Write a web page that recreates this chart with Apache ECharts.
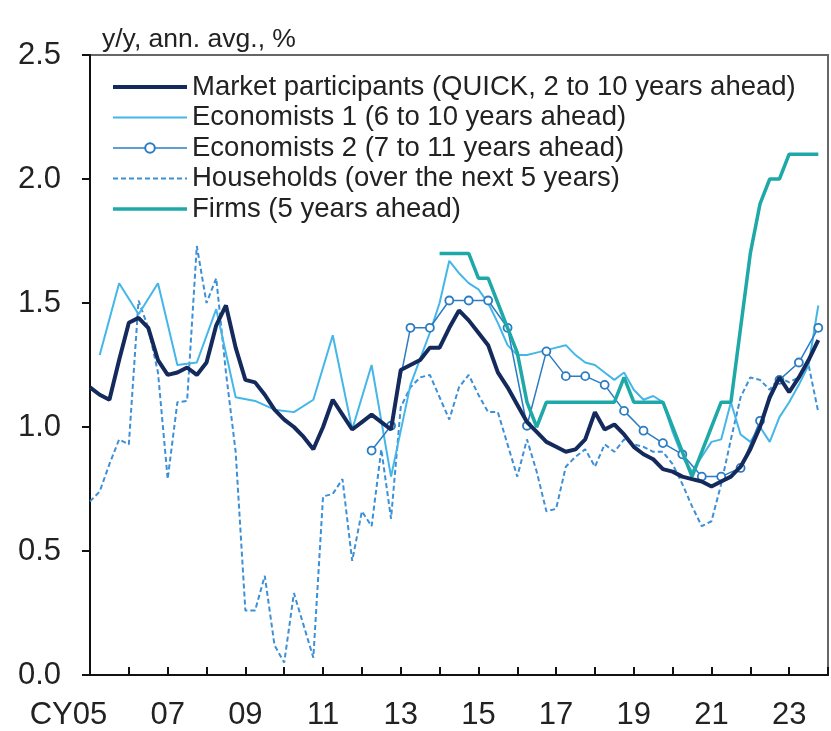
<!DOCTYPE html>
<html><head><meta charset="utf-8">
<script src="https://cdn.jsdelivr.net/npm/echarts@6/dist/echarts.min.js"></script>
<style>html,body{margin:0;padding:0;background:#fff}#c{width:831px;height:731px}</style>
</head><body><div id="c"></div><script>
// ---- data ----
const seriesNames = [
  'Market participants (QUICK, 2 to 10 years ahead)',
  'Economists 1 (6 to 10 years ahead)',
  'Economists 2 (7 to 11 years ahead)',
  'Households (over the next 5 years)',
  'Firms (5 years ahead)'
];
// quarterly from 2005 Q1
const marketStart = 2005.0;
const market = [1.16,1.13,1.11,1.27,1.42,1.44,1.40,1.27,1.21,1.22,1.24,1.21,1.26,1.41,1.49,1.32,1.19,1.18,1.13,1.07,
  1.03,1.00,0.96,0.91,1.00,1.11,1.05,0.99,1.02,1.05,1.02,0.99,1.23,1.25,1.27,1.32,1.32,1.40,1.47,1.43,
  1.38,1.33,1.22,1.16,1.09,1.02,0.98,0.94,0.92,0.90,0.91,0.95,1.06,0.99,1.01,0.97,0.92,0.89,0.87,0.83,
  0.82,0.80,0.79,0.78,0.76,0.78,0.80,0.84,0.91,1.00,1.12,1.20,1.14,1.20,1.27,1.35];
// semiannual from 2005.25, then quarterly from 2014.0
const econ1SemiStart = 2005.25;
const econ1Semi = [1.29,1.58,1.455,1.58,1.25,1.26,1.475,1.12,1.105,1.07,1.06,1.11,1.37,0.99,1.25,0.80,1.17,1.38];
const econ1QStart = 2014.0;
const econ1Q = [1.50,1.67,1.62,1.58,1.555,1.50,1.42,1.33,1.29,1.29,1.30,1.31,1.32,1.33,1.29,1.26,1.25,1.22,1.19,1.22,
  1.15,1.11,1.125,1.10,0.98,0.88,0.82,0.88,0.94,0.95,1.10,0.97,0.94,1.00,0.94,1.04,1.10,1.17,1.25,1.49];
// semiannual from 2012.25
const econ2Start = 2012.25;
const econ2 = [0.905,1.005,1.40,1.40,1.51,1.51,1.51,1.40,1.005,1.305,1.205,1.205,1.17,1.065,0.985,0.935,0.89,0.80,0.80,0.835,1.025,1.19,1.26,1.40];
// quarterly from 2005 Q1
const householdsStart = 2005.0;
const households = [0.70,0.74,0.85,0.95,0.93,1.51,1.40,1.22,0.79,1.10,1.105,1.73,1.50,1.60,1.22,0.90,0.26,0.26,0.40,0.12,
  0.05,0.33,0.20,0.07,0.72,0.73,0.79,0.46,0.66,0.60,0.91,0.63,1.08,1.16,1.20,1.21,1.12,1.03,1.16,1.21,
  1.13,1.06,1.06,0.93,0.80,0.95,0.82,0.66,0.67,0.84,0.88,0.91,0.84,0.93,0.90,0.95,0.93,0.92,0.90,0.90,
  0.85,0.77,0.68,0.60,0.62,0.77,0.95,1.12,1.20,1.19,1.15,1.20,1.18,1.20,1.25,1.06];
// quarterly from 2014 Q1
const firmsStart = 2014.0;
const firms = [1.7,1.7,1.7,1.7,1.6,1.6,1.5,1.4,1.3,1.1,1.0,1.1,1.1,1.1,1.1,1.1,1.1,1.1,1.1,1.2,
  1.1,1.1,1.1,1.1,1.0,0.9,0.8,0.9,1.0,1.1,1.1,1.4,1.7,1.9,2.0,2.0,2.1,2.1,2.1,2.1];
const xMin = 2005, xMax = 2024, yMin = 0, yMax = 2.5, yStep = 0.5;
const subtitle = 'y/y, ann. avg., %';

function pairs(start, step, arr){ return arr.map((v,i)=>[start+i*step, v]); }

const FONT = '"Liberation Sans", Arial, sans-serif';
const hidden = {color:'rgba(0,0,0,0)', borderColor:'rgba(0,0,0,0)', borderWidth:0};
const chart = echarts.init(document.getElementById('c'), null, {renderer:'canvas'});
chart.setOption({
  animation:false,
  backgroundColor:'#fff',
  title:{text:subtitle, left:97, top:21, textStyle:{fontSize:26.5, fontWeight:'normal', color:'#222', fontFamily:FONT}},
  grid:{left:90, right:1, top:55, bottom:54, show:true, borderColor:'#666', borderWidth:2, backgroundColor:'transparent'},
  legend:{
    orient:'vertical', left:106, top:67, itemWidth:74, itemHeight:12, itemGap:0.5,
    lineStyle:{width:'inherit'},
    textStyle:{fontSize:27.5, color:'#222', fontFamily:FONT, lineHeight:30},
    data:[
      {name:seriesNames[0], itemStyle:hidden},
      {name:seriesNames[1], itemStyle:hidden},
      {name:seriesNames[2]},
      {name:seriesNames[3], itemStyle:hidden},
      {name:seriesNames[4], itemStyle:hidden}
    ],
    selectedMode:false
  },
  xAxis:{type:'value', min:xMin, max:xMax, interval:1,
    axisLine:{lineStyle:{color:'#111', width:2}},
    axisTick:{inside:true, length:8, lineStyle:{color:'#111', width:2}},
    splitLine:{show:false},
    axisLabel:{fontSize:31, color:'#222', fontFamily:FONT, margin:25,
      formatter:function(v){
        if (Math.round(v)%2===0) return '';
        const s = String(Math.round(v)%100).padStart(2,'0');
        if (Math.round(v)===xMin) return 'CY'+s+'{p|}';
        return s;
      },
      rich:{p:{width:43}}
    }
  },
  yAxis:{type:'value', min:yMin, max:yMax, interval:yStep,
    axisLine:{show:true, lineStyle:{color:'#111', width:2}},
    axisTick:{show:true, length:8, lineStyle:{color:'#111', width:2}},
    splitLine:{show:false},
    axisLabel:{fontSize:31, color:'#222', fontFamily:FONT, margin:29, formatter:v=>v.toFixed(1)}
  },
  series:[
    {name:seriesNames[3], type:'line', symbol:'none', z:2,
      data:pairs(householdsStart,0.25,households),
      lineStyle:{color:'#3d8fd6', width:2, type:[5,3]}, itemStyle:{color:'#3d8fd6'}},
    {name:seriesNames[1], type:'line', symbol:'none', z:3,
      data:pairs(econ1SemiStart,0.5,econ1Semi).concat(pairs(econ1QStart,0.25,econ1Q)),
      lineStyle:{color:'#45b6e8', width:2}, itemStyle:{color:'#45b6e8'}},
    {name:seriesNames[2], type:'line', symbol:'circle', symbolSize:8, showSymbol:true, z:4,
      data:pairs(econ2Start,0.5,econ2),
      lineStyle:{color:'#2b7cc2', width:1.5}, itemStyle:{color:'#fff', borderColor:'#2b7cc2', borderWidth:1.8}},
    {name:seriesNames[4], type:'line', symbol:'none', z:5,
      data:pairs(firmsStart,0.25,firms),
      lineStyle:{color:'#1fa8a8', width:3.5}, itemStyle:{color:'#1fa8a8'}},
    {name:seriesNames[0], type:'line', symbol:'none', z:6,
      data:pairs(marketStart,0.25,market),
      lineStyle:{color:'#152a5c', width:4}, itemStyle:{color:'#152a5c'}}
  ]
});
</script></body></html>
